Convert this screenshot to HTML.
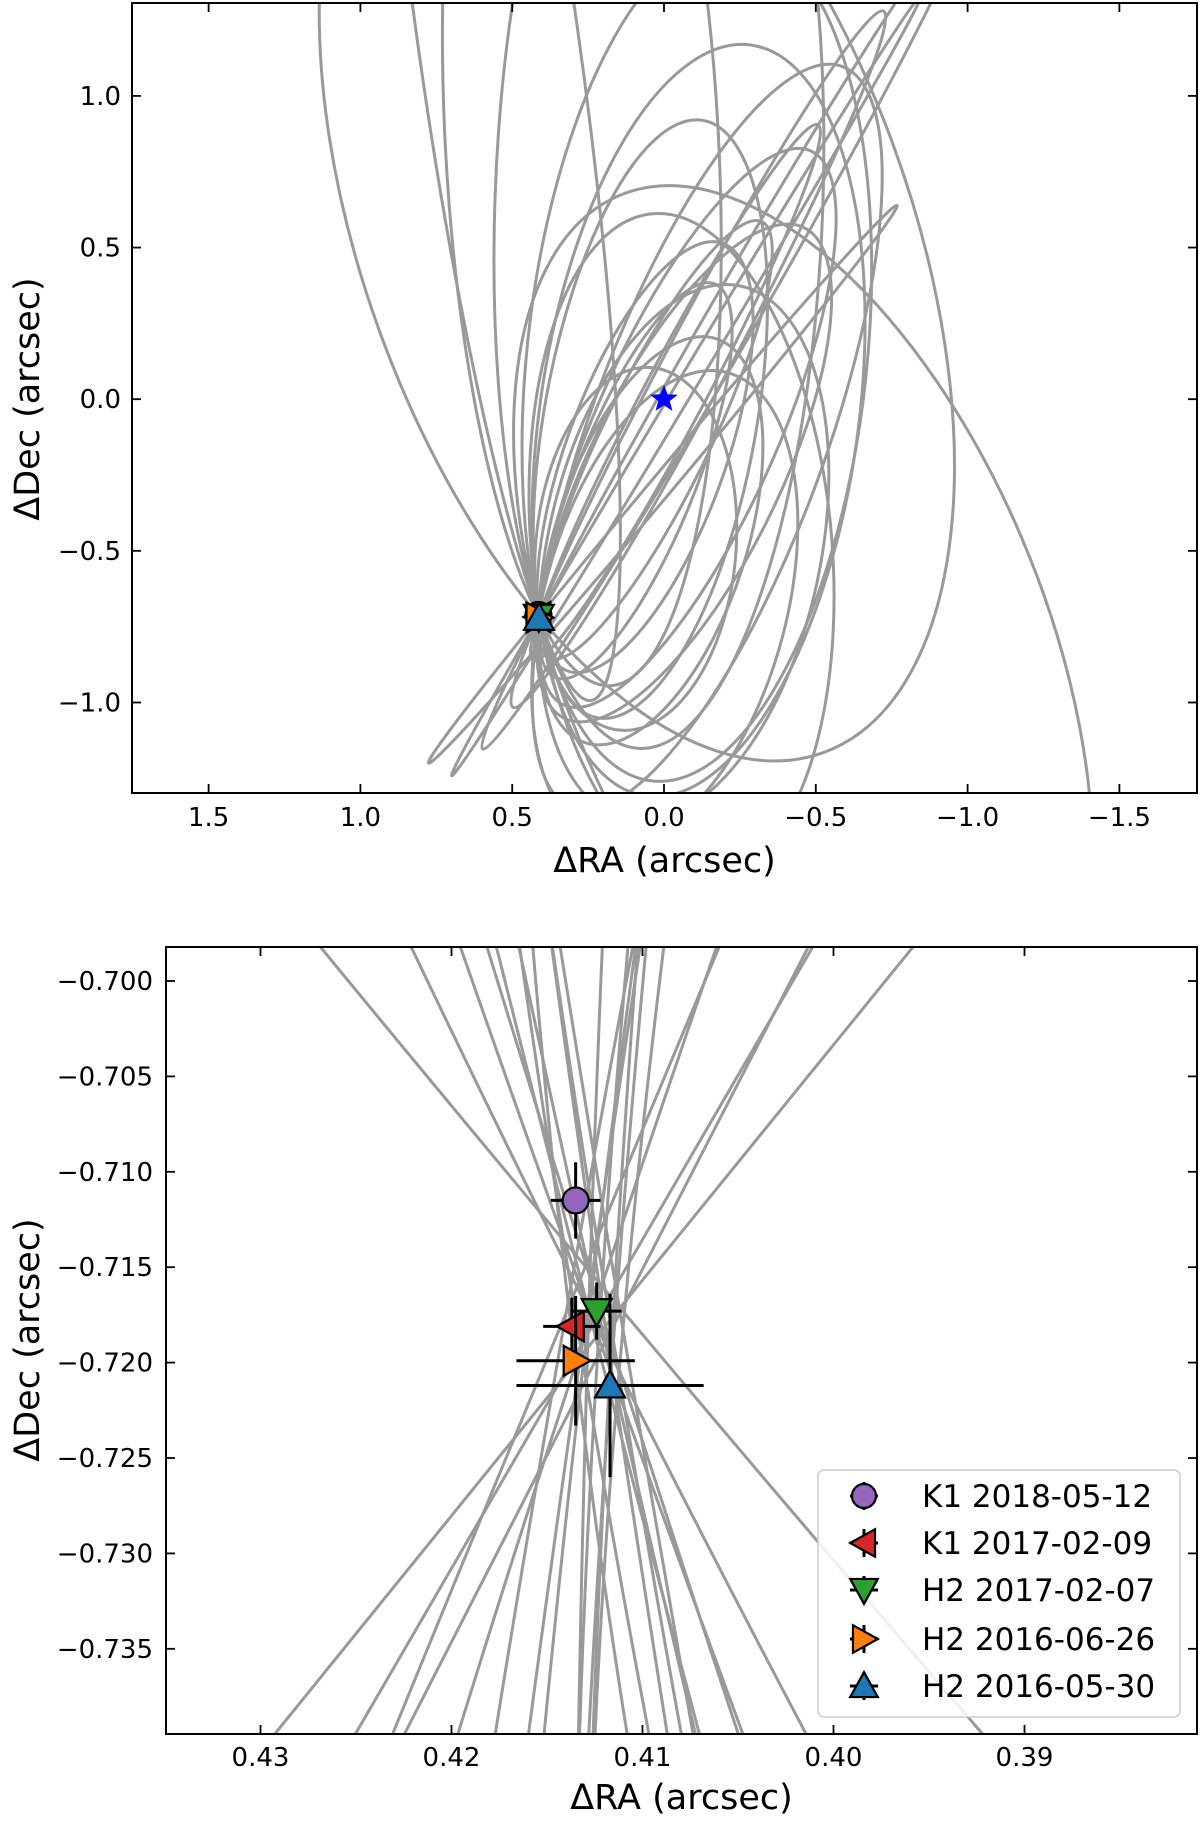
<!DOCTYPE html>
<html><head><meta charset="utf-8">
<style>
html,body{margin:0;padding:0;background:#fff;overflow:hidden;width:1200px;height:1823px;}
svg{display:block;font-family:"DejaVu Sans","Liberation Sans",sans-serif;overflow:hidden;}
</style></head>
<body>
<svg id="fig" width="1200" height="1823" viewBox="0 0 1200 1823" xmlns="http://www.w3.org/2000/svg">
<defs>
<clipPath id="clipTop"><rect x="132" y="3" width="1065" height="790"/></clipPath>
<clipPath id="clipBot"><rect x="166" y="947" width="1031" height="787"/></clipPath>
</defs>
</svg>
<script>
// orbit ellipses: semi-major axis (arcsec), axis ratio, major-axis angle (deg, u=-RA), eccentric anomaly of the anchor point (deg)
const orbitA = [1.5,1.0,1.0,0.9,1.25,0.75,0.7,0.7,0.6,0.8,1.3,1.6,1.8,1.8,1.4,0.9,1.1,1.6,2.2,0.8,1.0,1.3,1.8,1.2];
const orbitQ = [0.02,0.1,0.3,0.35,0.42,0.35,0.28,0.45,0.55,0.22,0.08,0.05,0.25,0.3,0.4,0.5,0.45,0.5,0.12,0.5,0.35,0.3,0.5,0.03];
const orbitAng = [59,62,66,64,82,70,68,72,85,64,62,60,93,88,84,78,95,112,98,75,80,70,110,50];
const orbitE = [127,150,140,135,125,145,140,120,115,150,140,135,150,140,130,110,100,75,150,100,135,125,126,120];
const orbitDu = [0.0005,-0.0008,0.0012,-0.0003,0.0009,-0.0014,0.0002,0.0011,-0.0006,0.0015,-0.0010,0.0004,-0.0012,0.0007,0.0000,-0.0004,0.0013,-0.0009,0.0006,-0.0015,0.0010,-0.0002,0.0008,-0.0010];
const orbitDv = [0.0010,-0.0015,0.0020,0.0005,-0.0025,0.0012,-0.0008,0.0028,-0.0020,0.0000,0.0018,-0.0012,0.0025,-0.0005,0.0015,-0.0022,0.0008,0.0030,-0.0018,0.0006,-0.0010,0.0022,0.0015,-0.0020];
const anchorRA = 0.4125, anchorDec = -0.7180;

// astrometry points
const ptLabels = ["K1 2018-05-12","K1 2017-02-09","H2 2017-02-07","H2 2016-06-26","H2 2016-05-30"];
const ptRA = [0.4135,0.4137,0.4124,0.4135,0.4117];
const ptDec = [-0.7115,-0.7181,-0.7173,-0.7199,-0.7212];
const ptRAerr = [0.0013,0.0015,0.0013,0.0031,0.0049];
const ptDecerr = [0.0020,0.0015,0.0015,0.0034,0.0048];
const ptColors = ["#9467bd","#d62728","#2ca02c","#ff7f0e","#1f77b4"];
const ptShapes = ["circle","left","down","right","up"];

const topXTicks = [1.5,1.0,0.5,0.0,-0.5,-1.0,-1.5];
const topYTicks = [1.0,0.5,0.0,-0.5,-1.0];
const botXTicks = [0.43,0.42,0.41,0.40,0.39];
const botYTicks = [-0.700,-0.705,-0.710,-0.715,-0.720,-0.725,-0.730,-0.735];

const NS = "http://www.w3.org/2000/svg";
const fig = document.getElementById("fig");
function mk(tag, attrs, parent){const e=document.createElementNS(NS,tag);for(const k in attrs)e.setAttribute(k,attrs[k]);(parent||fig).appendChild(e);return e;}
function fmt(v,d){const s=Math.abs(v).toFixed(d);return (v<-1e-9?"\u2212":"")+s;}

const panels = [
 {name:"top", L:132,R:1197,T:3,B:793, ox:664, kx:303.6, oy:399.2, ky:303.3, clip:"clipTop",
  xt:topXTicks, yt:topYTicks, xd:1, yd:1, ylabX:30, ylabY:399, xlabY:872, xtY:826, ytR:121},
 {name:"bottom", L:166,R:1197,T:947,B:1734, ox:8473.5, kx:19100, oy:-12375, ky:19080, clip:"clipBot",
  xt:botXTicks, yt:botYTicks, xd:2, yd:3, ylabX:30, ylabY:1340, xlabY:1809, xtY:1766, ytR:153}
];

panels.forEach(p=>{
  const px = ra => p.ox + p.kx*(-ra);
  const py = dec => p.oy - p.ky*dec;
  const clipG = mk("g",{"clip-path":"url(#"+p.clip+")"});
  
  
  const dg = mk("g",{transform:`matrix(${p.kx} 0 0 ${-p.ky} ${p.ox} ${p.oy})`}, clipG);
  for(let i=0;i<orbitA.length;i++){
    const Pu = -(anchorRA) + orbitDu[i], Pv = anchorDec + orbitDv[i];
    const th = orbitAng[i]*Math.PI/180, E = orbitE[i]*Math.PI/180;
    const a = orbitA[i], b = a*orbitQ[i];
    const lx = a*Math.cos(E), ly = b*Math.sin(E);
    const cu = Pu - (lx*Math.cos(th) - ly*Math.sin(th));
    const cv = Pv - (lx*Math.sin(th) + ly*Math.cos(th));
    const el = mk("ellipse",{cx:cu,cy:cv,rx:a,ry:b,
      transform:`rotate(${orbitAng[i]} ${cu} ${cv})`,
      fill:"none",stroke:"#999999","stroke-width":3,"vector-effect":"non-scaling-stroke"}, dg);
    
    
  }
  if(p.name==="top"){
    const sx=px(0), sy=py(0), R=13, r=5.5;
    let pts=[];
    for(let k=0;k<10;k++){const ang=-Math.PI/2+k*Math.PI/5;const rr=k%2?r:R;pts.push((sx+rr*Math.cos(ang)).toFixed(1)+","+(sy+rr*Math.sin(ang)).toFixed(1));}
    const star = mk("polygon",{points:pts.join(" "),fill:"#0000ff",stroke:"#0000ff","stroke-width":1}, clipG);
    
    
  }
  for(let i=0;i<ptRA.length;i++){
    const g = mk("g",{}, clipG);
    
    
    const x=px(ptRA[i]), y=py(ptDec[i]);
    if(p.name==="bottom"){
      mk("line",{x1:px(ptRA[i]+ptRAerr[i]),x2:px(ptRA[i]-ptRAerr[i]),y1:y,y2:y,stroke:"#000","stroke-width":3},g);
      mk("line",{x1:x,x2:x,y1:py(ptDec[i]+ptDecerr[i]),y2:py(ptDec[i]-ptDecerr[i]),stroke:"#000","stroke-width":3},g);
    }
    drawMarker(g, ptShapes[i], x, y, 13, ptColors[i]);
  }
  const fr = mk("rect",{x:p.L,y:p.T,width:p.R-p.L,height:p.B-p.T,fill:"none",stroke:"#000","stroke-width":2});
  
  
  p.xt.forEach(t=>{
    const x=px(t);
    mk("line",{x1:x,x2:x,y1:p.B,y2:p.B-9,stroke:"#000","stroke-width":1.8});
    mk("line",{x1:x,x2:x,y1:p.T,y2:p.T+9,stroke:"#000","stroke-width":1.8});
    const tx = mk("text",{x:x,y:p.xtY,"text-anchor":"middle","font-size":26});
    tx.textContent = fmt(t,p.xd);
    
    
  });
  p.yt.forEach(t=>{
    const y=py(t);
    mk("line",{x1:p.L,x2:p.L+9,y1:y,y2:y,stroke:"#000","stroke-width":1.8});
    mk("line",{x1:p.R,x2:p.R-9,y1:y,y2:y,stroke:"#000","stroke-width":1.8});
    const ty = mk("text",{x:p.ytR,y:y+9,"text-anchor":"end","font-size":26});
    ty.textContent = fmt(t,p.yd);
    
    
  });
  const xl = mk("text",{x:(p.L+p.R)/2,y:p.xlabY,"text-anchor":"middle","font-size":35});
  xl.textContent = "\u0394RA (arcsec)";
  
  
  const yl = mk("text",{x:0,y:0,"text-anchor":"middle","font-size":35,transform:`translate(${p.ylabX+9},${p.ylabY}) rotate(-90)`});
  yl.textContent = "\u0394Dec (arcsec)";
  
  
});

function drawMarker(g, shape, x, y, r, col){
  let el;
  if(shape==="circle"){ el = mk("circle",{cx:x,cy:y,r:r},g); }
  else{
    const s=r*1.15; let pts;
    if(shape==="up") pts=[[x,y-s],[x-s,y+s*0.8],[x+s,y+s*0.8]];
    if(shape==="down") pts=[[x,y+s],[x-s,y-s*0.8],[x+s,y-s*0.8]];
    if(shape==="left") pts=[[x-s,y],[x+s*0.8,y-s],[x+s*0.8,y+s]];
    if(shape==="right") pts=[[x+s,y],[x-s*0.8,y-s],[x-s*0.8,y+s]];
    el = mk("polygon",{points:pts.map(q=>q.join(",")).join(" ")},g);
  }
  el.setAttribute("fill",col); el.setAttribute("stroke","#000"); el.setAttribute("stroke-width",2.2);
  return el;
}

const lg = mk("g",{});


mk("rect",{x:818,y:1470,width:362,height:247,rx:6,fill:"#fff","fill-opacity":0.85,stroke:"#cccccc","stroke-width":1.5},lg);
const legY=[1496,1543,1590,1639,1686];
for(let i=0;i<ptLabels.length;i++){
  const eg = mk("g",{},lg);
  
  
  const y=legY[i], x=864;
  mk("line",{x1:x-14,x2:x+14,y1:y,y2:y,stroke:"#000","stroke-width":3},eg);
  mk("line",{x1:x,x2:x,y1:y-14,y2:y+14,stroke:"#000","stroke-width":3},eg);
  drawMarker(eg, ptShapes[i], x, y, 12, ptColors[i]);
  const t = mk("text",{x:922,y:y+11,"font-size":31},eg);
  t.textContent = ptLabels[i];
  
  
}
</script>
</body></html>
